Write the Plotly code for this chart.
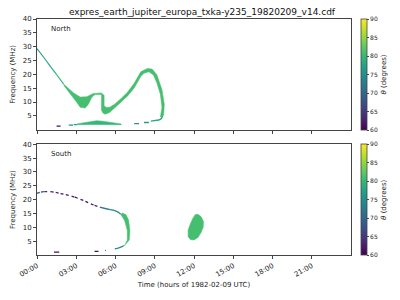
import plotly.graph_objects as go
from plotly.colors import sample_colorscale

# ---------------- data (hours of day, MHz, theta in degrees) ----------------
tick_hours = [0, 3, 6, 9, 12, 15, 18, 21]
tick_labels = ["00:00", "03:00", "06:00", "09:00", "12:00", "15:00", "18:00", "21:00"]
freq_ticks = [5, 10, 15, 20, 25, 30, 35, 40]
theta_ticks = [60, 65, 70, 75, 80, 85, 90]

# North hemisphere: thin descending line (segments with theta)
n_line_t = [0.0, 0.55, 1.05, 1.5, 2.05]
n_line_f = [29.3, 25.9, 22.7, 19.9, 16.4]
n_line_th = [76, 77, 78, 80]

# North: left lobe band (polygon outline)
n_lobe_t = [2.05, 2.3, 2.8, 3.3, 3.8, 4.3, 4.8, 4.93, 4.93, 4.43, 4.18, 3.93, 3.68, 3.3, 3.05, 2.55, 2.05]
n_lobe_f = [16.4, 15.4, 13.3, 11.8, 11.9, 13.1, 13.3, 13.3, 12.7, 12.7, 11.6, 9.2, 7.8, 8.1, 9.8, 12.7, 16.0]
n_lobe_th = 81

# North: drop + right arc band (polygon outline)
n_arc_t = [4.93, 4.93, 5.05, 5.2, 5.55, 5.93, 6.43, 6.93, 7.43, 7.93, 8.18, 8.55, 8.9, 9.17, 9.43, 9.55, 9.43,
           9.68, 9.73, 9.55, 9.17, 8.8, 8.43, 7.93, 7.43, 6.93, 6.43, 5.93, 5.55, 5.3, 5.13, 5.13]
n_arc_f = [13.3, 6.9, 6.0, 5.6, 6.2, 7.8, 9.8, 12.2, 15.1, 19.2, 20.4, 20.9, 19.8, 16.8, 12.7, 8.1, 4.6,
           5.2, 9.2, 14.5, 19.8, 21.9, 22.1, 20.9, 16.8, 13.6, 11.3, 9.2, 8.1, 8.0, 8.7, 12.5]
n_arc_th = 81

# North: lower tail of the arc
n_tail_t = [9.6, 9.5, 9.3, 9.0, 8.7]
n_tail_f = [5.0, 4.0, 3.5, 3.2, 3.1]
n_tail_th = 78

# North: low-frequency band (polygon outline)
n_low_t = [3.05, 3.6, 4.0, 4.55, 5.0, 5.55, 6.0, 6.43, 6.43, 5.0, 4.0, 3.05]
n_low_f = [2.1, 2.5, 2.9, 3.25, 3.1, 2.7, 2.3, 2.1, 1.8, 2.0, 1.9, 1.8]
n_low_th = 80

# North: short dashes (start t, end t, freq, theta)
n_dash_t0 = [1.5, 2.43, 2.8, 7.43, 8.18]
n_dash_t1 = [1.8, 2.75, 3.05, 7.8, 8.55]
n_dash_f = [1.3, 1.65, 1.85, 2.2, 2.6]
n_dash_th = [61, 75, 77, 75, 76]

# South hemisphere: descending curve (dotted)
s_curve_t = [0.0, 0.3, 0.55, 1.05, 1.43, 1.8, 2.2, 2.9, 3.7, 4.4, 4.8]
s_curve_f = [22.3, 22.7, 22.9, 22.9, 22.6, 22.2, 21.8, 20.9, 19.4, 17.9, 17.3]
s_curve_th = [70, 66, 64, 63, 63, 62, 62, 62, 62, 63, 64]

s_mid_t = [4.8, 5.2, 5.6, 5.9, 6.2, 6.4]
s_mid_f = [17.3, 16.8, 16.4, 16.1, 15.5, 14.7]
s_mid_th = [72, 72, 73, 74, 75, 77]

# South: green vertical part (polygon outline)
s_vert_t = [6.4, 6.7, 6.9, 6.9, 6.75, 6.55, 6.7, 7.05, 7.1, 7.0, 6.8, 6.5]
s_vert_f = [14.7, 12.4, 8.9, 5.4, 3.8, 3.2, 3.4, 5.4, 8.9, 12.6, 14.6, 15.2]
s_vert_th = 81

s_bot_t = [6.6, 6.2, 5.65, 5.2]
s_bot_f = [3.2, 2.5, 1.9, 1.6]
s_bot_th = 75

s_dash_t0 = [1.3, 4.4]
s_dash_t1 = [1.7, 4.7]
s_dash_f = [1.05, 1.3]
s_dash_th = [61, 61]

# South: blob near 12h (polygon outline)
s_blob_t = [11.55, 11.55, 11.7, 11.9, 12.1, 12.3, 12.55, 12.73, 12.7, 12.55, 12.3, 12.0, 11.7]
s_blob_f = [6.5, 8.9, 11.0, 13.2, 14.6, 14.7, 13.8, 12.0, 10.0, 8.2, 6.3, 5.4, 5.6]
s_blob_th = 81

# ---------------- helpers ----------------
TH_MIN, TH_MAX = 60, 90


def col(th):
    return sample_colorscale("Viridis", [(th - TH_MIN) / (TH_MAX - TH_MIN)])[0]


fig = go.Figure()


def axes(row):
    return ("x", "y") if row == 1 else ("x2", "y2")


def poly(t, f, th, row):
    xa, ya = axes(row)
    fig.add_trace(go.Scatter(x=t, y=f, mode="lines", fill="toself", fillcolor=col(th),
                             line=dict(width=0.5, color=col(th)), hoverinfo="skip",
                             xaxis=xa, yaxis=ya))


def line(t, f, th, row, width=1.3, dash="solid"):
    xa, ya = axes(row)
    fig.add_trace(go.Scatter(x=t, y=f, mode="lines", line=dict(width=width, color=col(th), dash=dash),
                             hoverinfo="skip", xaxis=xa, yaxis=ya))


# North
for i in range(len(n_line_t) - 1):
    line(n_line_t[i:i + 2], n_line_f[i:i + 2], n_line_th[i], 1, width=1.1)
poly(n_lobe_t, n_lobe_f, n_lobe_th, 1)
poly(n_arc_t, n_arc_f, n_arc_th, 1)
line(n_tail_t, n_tail_f, n_tail_th, 1, width=1.4)
poly(n_low_t, n_low_f, n_low_th, 1)
for a, b, f, th in zip(n_dash_t0, n_dash_t1, n_dash_f, n_dash_th):
    line([a, b], [f, f], th, 1, width=1.3)

# South
for i in range(len(s_curve_t) - 1):
    line(s_curve_t[i:i + 2], s_curve_f[i:i + 2], s_curve_th[i], 2, width=1.3, dash="dot")
for i in range(len(s_mid_t) - 1):
    line(s_mid_t[i:i + 2], s_mid_f[i:i + 2], s_mid_th[i], 2, width=1.3, dash="dash")
poly(s_vert_t, s_vert_f, s_vert_th, 2)
line(s_bot_t, s_bot_f, s_bot_th, 2, width=1.3, dash="dash")
for a, b, f, th in zip(s_dash_t0, s_dash_t1, s_dash_f, s_dash_th):
    line([a, b], [f, f], th, 2, width=1.3)
poly(s_blob_t, s_blob_f, s_blob_th, 2)

# colorbar carriers
for ca, row in (("coloraxis", 1), ("coloraxis2", 2)):
    xa, ya = axes(row)
    fig.add_trace(go.Scatter(x=[None], y=[None], mode="markers",
                             marker=dict(color=[TH_MIN], coloraxis=ca, size=1),
                             xaxis=xa, yaxis=ya, hoverinfo="skip"))

FONT = "DejaVu Sans"
axis_line = "#444444"
txt = "#222222"
tickfont = dict(family=FONT, size=7, color=txt)

top_dom = [0.5309, 1.0]
bot_dom = [0.0, 0.4691]


def cbar(y_top):
    return dict(
        x=1.031, xanchor="left", xpad=0, ypad=0,
        y=y_top, yanchor="top", len=0.4691, lenmode="fraction",
        thickness=6, outlinewidth=0.8, outlinecolor=axis_line,
        tickvals=theta_ticks, ticks="outside", ticklen=2, tickcolor=axis_line,
        tickfont=dict(family=FONT, size=6, color=txt),
        title=dict(text="<i>θ</i> (degrees)", side="right",
                   font=dict(family=FONT, size=7, color=txt)),
    )


xcommon = dict(range=[0, 24], tickvals=tick_hours, showgrid=False, zeroline=False,
               showline=True, linecolor=axis_line, linewidth=1, mirror=True,
               ticks="outside", ticklen=3, tickcolor=axis_line, tickfont=tickfont)
ycommon = dict(range=[0, 40], tickvals=freq_ticks, showgrid=False, zeroline=False,
               showline=True, linecolor=axis_line, linewidth=1, mirror=True,
               ticks="outside", ticklen=3, tickcolor=axis_line, tickfont=tickfont,
               title=dict(text="Frequency (MHz)", standoff=6,
                          font=dict(family=FONT, size=7, color=txt)))

fig.update_layout(
    width=400, height=300,
    margin=dict(l=31, r=49, t=19, b=38),
    paper_bgcolor="white", plot_bgcolor="white",
    showlegend=False,
    font=dict(family=FONT, size=7, color=txt),
    title=dict(text="expres_earth_jupiter_europa_txka-y235_19820209_v14.cdf",
               x=0.505, xanchor="center", y=0.962, yanchor="middle",
               font=dict(family=FONT, size=9, color="#111111")),
    xaxis=dict(domain=[0, 1], anchor="y", showticklabels=False, **xcommon),
    yaxis=dict(domain=top_dom, anchor="x", **ycommon),
    xaxis2=dict(domain=[0, 1], anchor="y2", ticktext=tick_labels, tickangle=-30,
                title=dict(text="Time (hours of 1982-02-09 UTC)", standoff=4,
                           font=dict(family=FONT, size=7, color=txt)),
                **xcommon),
    yaxis2=dict(domain=bot_dom, anchor="x2", **ycommon),
    coloraxis=dict(colorscale="Viridis", cmin=TH_MIN, cmax=TH_MAX, colorbar=cbar(1.0)),
    coloraxis2=dict(colorscale="Viridis", cmin=TH_MIN, cmax=TH_MAX, colorbar=cbar(0.4691)),
    annotations=[
        dict(text="North", xref="x domain", yref="y domain", x=0.0375, y=0.912,
             xanchor="left", yanchor="middle", showarrow=False,
             font=dict(family=FONT, size=7, color=txt)),
        dict(text="South", xref="x2 domain", yref="y2 domain", x=0.0375, y=0.91,
             xanchor="left", yanchor="middle", showarrow=False,
             font=dict(family=FONT, size=7, color=txt)),
    ],
)

fig.write_html("out.html")
